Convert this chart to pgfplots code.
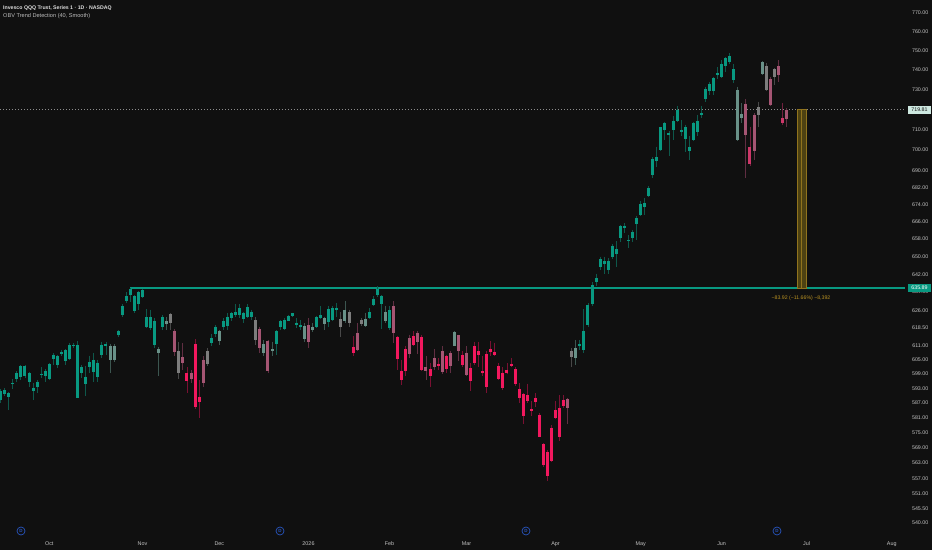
\documentclass[border=0pt]{standalone}
\usepackage{fontspec}
\setmainfont{Liberation Sans}
\usepackage{pgfplots}
\usepackage{pgfplotstable}
\pgfplotsset{compat=1.18}

\definecolor{bg}{RGB}{16,16,16}
\definecolor{lab}{RGB}{195,195,195}
\definecolor{titleA}{RGB}{222,222,222}
\definecolor{titleB}{RGB}{190,190,190}
\definecolor{darktxt}{RGB}{20,20,20}
\definecolor{tealB}{RGB}{8,153,129}
\definecolor{tealW}{RGB}{14,88,75}
\definecolor{gtB}{RGB}{105,145,136}
\definecolor{gtW}{RGB}{60,86,80}
\definecolor{gB}{RGB}{125,125,125}
\definecolor{gW}{RGB}{72,72,72}
\definecolor{mpB}{RGB}{165,85,115}
\definecolor{mpW}{RGB}{96,46,66}
\definecolor{mdB}{RGB}{205,55,105}
\definecolor{mdW}{RGB}{112,32,62}
\definecolor{pB}{RGB}{242,24,94}
\definecolor{pW}{RGB}{122,16,50}
\definecolor{lvl}{RGB}{8,153,129}
\definecolor{dotc}{RGB}{140,140,140}
\definecolor{goldF}{RGB}{78,66,18}
\definecolor{goldD}{RGB}{145,116,30}
\definecolor{goldT}{RGB}{185,145,35}
\definecolor{pricebox}{RGB}{205,232,224}
\definecolor{divblue}{RGB}{40,85,190}

% columns: bar index, low, body low, body high, high
\pgfplotstableread{
i lo blo bhi hi
-12 587.0 588.0 591.7 592.8
-11 589.9 590.6 592.2 593.2
-10 584.2 589.6 591.0 591.5
-9 592.7 594.6 595.4 596.8
-8 595.8 596.9 599.3 600.0
-7 596.5 597.5 602.1 602.8
-6 597.3 597.9 602.1 602.8
-5 593.7 595.7 599.3 599.8
-4 588.3 591.7 593.3 595.1
-3 591.0 593.7 595.8 596.5
-2 597.2 598.3 599.1 601.8
-1 595.8 597.9 600.3 601.1
0 596.5 596.8 603.1 603.6
1 602.8 605.3 607.0 607.7
2 601.4 602.8 606.3 607.0
3 606.3 607.4 608.2 609.1
4 602.8 604.2 609.0 609.5
5 604.9 605.2 611.2 612.1
6 609.8 610.5 611.3 611.9
7 589.1 589.2 611.2 612.9
8 597.2 599.3 601.8 602.8
9 589.9 594.9 597.8 602.1
10 599.3 601.8 603.9 606.6
11 595.8 599.7 604.9 607.9
12 595.8 597.6 603.7 604.9
13 605.6 606.7 611.2 612.6
14 607.0 610.8 611.6 612.6
17 614.7 615.5 616.9 617.6
18 623.2 624.2 627.7 628.9
19 629.2 629.9 632.5 633.9
20 629.7 632.8 635.5 635.9
21 625.0 625.8 632.1 632.8
22 626.3 628.9 633.9 634.6
23 631.4 631.8 635.0 635.4
24 618.3 619.0 623.1 626.6
25 617.6 618.2 623.1 626.3
26 609.8 611.2 621.6 622.8
28 617.6 618.6 623.1 624.1
40 610.5 612.2 614.1 615.9
41 614.7 615.8 619.0 619.7
43 617.6 619.0 621.6 622.7
44 617.6 619.3 623.3 624.8
45 621.2 622.7 624.8 625.5
46 623.3 624.2 625.4 628.9
47 622.7 623.8 627.0 628.7
48 620.7 622.3 625.1 625.5
49 622.7 623.3 627.4 628.9
50 621.9 623.3 625.5 626.3
56 607.0 611.5 616.9 617.6
57 617.6 618.6 621.2 621.9
58 617.6 617.9 621.9 622.7
59 621.2 621.6 623.7 624.1
60 623.3 623.7 624.7 625.1
61 618.3 619.6 620.7 622.7
62 617.6 619.0 619.7 621.9
66 618.3 619.0 623.1 623.7
67 622.2 622.8 623.8 627.7
69 619.0 620.9 626.6 627.7
70 621.2 621.9 627.1 628.0
71 623.3 626.0 627.1 629.2
79 622.2 622.8 625.4 627.0
80 627.7 628.4 631.1 632.1
81 631.8 632.7 635.4 636.5
82 617.9 628.9 632.4 632.8
84 617.6 618.3 626.0 627.7
131 609.1 610.5 611.6 613.3
132 607.9 609.1 617.2 626.6
133 619.0 619.7 628.4 629.2
134 628.0 628.7 637.3 638.3
135 636.5 638.7 640.2 642.2
136 643.9 645.2 648.7 649.9
137 642.2 646.5 647.7 649.9
138 642.2 643.9 648.1 649.2
139 648.7 649.9 654.9 655.7
140 645.4 651.1 653.4 656.8
141 656.3 658.1 663.7 664.4
142 660.6 663.1 664.1 665.2
143 653.7 657.1 657.5 659.8
144 656.3 658.3 661.3 662.1
145 657.5 664.9 667.5 668.6
146 668.3 668.9 674.1 675.3
147 669.1 672.5 674.6 676.9
148 677.4 677.7 681.6 682.7
149 686.4 687.6 695.7 696.5
150 691.9 694.7 696.5 701.6
151 699.2 699.7 711.1 711.4
152 704.9 709.8 713.1 713.9
153 696.8 707.2 708.2 709.0
154 704.9 709.8 714.4 716.8
155 713.9 714.4 719.8 721.8
156 706.5 708.8 709.8 714.8
157 698.7 705.4 711.1 712.3
158 695.2 699.5 701.6 706.5
159 704.1 704.9 713.1 713.9
160 706.5 708.5 714.4 717.3
161 715.6 717.3 718.1 721.8
162 723.9 725.2 730.2 731.5
163 727.3 729.0 732.9 734.1
164 727.3 729.0 735.8 736.3
165 735.3 737.5 738.4 741.5
166 735.8 736.6 743.2 745.2
167 739.2 741.8 746.1 746.6
168 743.2 743.8 747.3 748.7
169 733.3 735.0 740.4 743.2
}\tabT

\pgfplotstableread{
i lo blo bhi hi
15 599.5 604.9 610.8 611.6
16 604.0 604.6 610.5 611.6
27 598.2 607.9 609.5 610.3
29 617.6 620.2 621.3 623.1
42 611.2 613.0 616.9 617.6
53 606.6 607.9 611.5 613.3
55 606.3 608.7 609.5 612.6
63 612.6 613.8 619.4 620.5
65 616.5 617.6 619.0 620.5
68 617.6 620.0 622.7 623.3
73 620.5 621.3 626.3 629.9
78 619.0 619.3 622.5 625.1
83 620.7 621.6 625.5 628.0
100 610.5 610.8 616.5 616.9
130 602.8 605.4 609.8 613.3
170 704.1 704.6 729.8 731.5
171 713.1 715.6 717.8 723.1
176 737.5 737.9 743.8 744.4
}\tabGT

\pgfplotstableread{
i lo blo bhi hi
30 617.6 620.7 624.5 624.8
32 596.8 599.3 608.7 612.6
39 602.1 603.2 608.7 609.8
51 611.2 613.3 621.9 623.3
72 614.5 619.0 622.2 625.5
74 619.0 620.7 625.4 626.3
77 619.3 620.2 621.9 622.7
129 601.8 605.9 608.7 609.8
175 711.1 717.3 721.1 723.9
177 729.0 729.5 742.1 743.5
179 732.4 736.6 740.4 740.9
}\tabG

\pgfplotstableread{
i lo blo bhi hi
31 606.3 608.1 617.3 618.0
33 600.4 603.5 606.0 611.9
35 595.1 596.9 599.5 600.7
38 593.7 595.1 604.9 606.3
52 607.7 610.0 618.0 619.0
54 599.5 600.0 612.9 613.3
64 609.8 612.6 619.7 622.7
76 608.4 609.1 616.2 620.5
85 611.9 616.2 628.0 629.9
89 605.6 607.4 614.1 615.5
91 607.4 612.6 616.2 616.9
93 596.5 600.0 601.8 606.3
95 600.7 601.8 605.6 609.5
97 599.0 599.8 608.7 610.5
99 599.5 602.1 607.7 608.4
101 604.2 608.8 615.2 615.5
103 597.9 598.5 607.9 610.5
128 578.5 585.1 588.5 588.9
172 686.4 707.4 722.8 725.2
174 695.2 699.2 716.9 718.1
178 721.4 722.3 735.3 736.6
180 734.1 737.5 741.8 745.2
182 711.1 715.1 719.8 720.6
}\tabMP

\pgfplotstableread{
i lo blo bhi hi
173 692.3 693.2 701.3 711.4
181 712.3 713.4 715.6 723.1
}\tabMD

\pgfplotstableread{
i lo blo bhi hi
34 591.0 596.1 599.3 601.8
36 584.5 585.3 611.5 613.6
37 580.8 587.2 589.6 596.5
75 606.6 607.7 610.2 615.0
86 600.4 605.3 614.7 615.0
87 594.5 596.5 600.0 604.9
88 597.9 600.0 609.4 610.5
90 610.5 611.2 615.0 616.9
92 600.0 600.4 614.5 615.5
94 593.5 598.0 601.0 603.5
96 600.7 602.4 603.2 605.6
98 599.3 601.1 606.3 607.0
102 601.8 602.6 607.0 608.4
104 591.7 596.1 601.4 603.5
105 602.8 603.7 610.5 612.6
106 601.8 607.0 608.8 612.6
107 597.9 599.4 600.0 606.3
108 591.2 593.7 607.4 608.4
109 606.6 608.2 609.5 612.9
110 606.3 607.0 608.2 612.1
111 596.5 596.8 602.4 603.5
112 592.4 593.3 599.5 601.8
113 599.0 599.5 600.4 603.5
114 601.8 602.4 603.2 605.6
115 594.0 594.7 601.1 601.8
116 586.9 589.2 592.8 595.1
117 578.5 581.7 590.7 591.0
118 586.9 587.6 590.3 594.9
119 581.7 583.8 584.5 587.6
120 585.5 587.4 588.9 591.0
121 573.2 573.4 582.2 582.8
122 561.6 562.1 570.5 570.8
123 555.8 558.0 567.1 568.1
124 563.5 563.9 577.0 578.1
125 580.4 580.9 584.2 587.6
126 571.8 573.4 584.9 590.3
127 584.9 585.8 588.3 590.3
}\tabP

\newcommand{\candles}[3]{%
  \addplot[draw=none, mark=none, forget plot,
    error bars/.cd, y dir=minus, y explicit, error mark=none,
    error bar style={draw=#2, line width=0.9pt}]
    table[x=i, y=hi, y error minus expr={\thisrow{hi}-\thisrow{lo}}] {#1};
  \addplot[draw=none, mark=none, forget plot,
    error bars/.cd, y dir=minus, y explicit, error mark=none,
    error bar style={draw=#3, line width=3pt}]
    table[x=i, y=bhi, y error minus expr={\thisrow{bhi}-\thisrow{blo}}] {#1};
}

\begin{document}
\begin{tikzpicture}
\path[use as bounding box] (0,0) rectangle (932pt,550pt);
\fill[bg] (0,0) rectangle (932pt,550pt);
\begin{axis}[
  at={(0pt,14pt)}, anchor=south west,
  scale only axis, width=905pt, height=536pt,
  xmin=-12.17, xmax=211.28,
  ymode=log, ymin=535.15, ymax=777.0,
  axis line style={draw=none},
  major tick length=0pt, minor tick num=0,
  ytick={540,545.5,551,557,563,569,575,581,587,593,599,605,611,618.5,626,634,642,650,658,666,674,682,690,700,710,730,740,750,760,770},
  yticklabels={540.00,545.50,551.00,557.00,563.00,569.00,575.00,581.00,587.00,593.00,599.00,605.00,611.00,618.50,626.00,634.00,642.00,650.00,658.00,666.00,674.00,682.00,690.00,700.00,710.00,730.00,740.00,750.00,760.00,770.00},
  yticklabel pos=right,
  yticklabel style={anchor=east, inner sep=0pt, xshift=23.5pt, font=\fontsize{5.3}{6}\selectfont, text=lab},
  xtick={0,23,42,64,84,103,125,146,166,187,208},
  xticklabels={Oct,Nov,Dec,2026,Feb,Mar,Apr,May,Jun,Jul,Aug},
  xticklabel style={anchor=center, inner sep=0pt, yshift=-8pt, font=\fontsize{5.4}{6}\selectfont, text=lab},
]
% reference lines
\addplot[dotc, line width=0.8pt, dash pattern=on 1pt off 2pt, forget plot] coordinates {(-12.17,719.81) (211.28,719.81)};
\addplot[lvl, line width=1.2pt, forget plot] coordinates {(20,635.89) (211.28,635.89)};
% candles
\candles{\tabT}{tealW}{tealB}
\candles{\tabGT}{gtW}{gtB}
\candles{\tabG}{gW}{gB}
\candles{\tabMP}{mpW}{mpB}
\candles{\tabMD}{mdW}{mdB}
\candles{\tabP}{pW}{pB}
% price range tool
\addplot[fill=goldF, draw=goldD, line width=0.6pt, forget plot] coordinates {(184.6,635.89) (186.8,635.89) (186.8,719.81) (184.6,719.81)} -- cycle;
\addplot[goldD, line width=0.6pt, forget plot] coordinates {(185.7,635.89) (185.7,719.81)};
\end{axis}
% title
\node[anchor=base west, inner sep=0pt, text=titleA, font=\fontsize{5.2}{6}\selectfont\bfseries] at (3pt,540.8pt) {Invesco QQQ Trust, Series 1 · 1D · NASDAQ};
\node[anchor=base west, inner sep=0pt, text=titleB, font=\fontsize{5.6}{6}\selectfont] at (3pt,532.4pt) {OBV Trend Detection (40, Smooth)};
% price labels
\node[fill=pricebox, inner sep=0pt, minimum width=23pt, minimum height=8pt, text=darktxt, font=\fontsize{5.3}{6}\selectfont] at (919.5pt,440pt) {719.81};
\node[fill=lvl, inner sep=0pt, minimum width=23pt, minimum height=8.5pt, text=white, font=\fontsize{5.3}{6}\selectfont] at (919.5pt,261.9pt) {635.89};
% range label
\node[inner sep=0pt, text=goldT, font=\fontsize{5.2}{6}\selectfont] at (801pt,252.2pt) {−83.92 (−11.66\%) −8,392};
% dividend markers
\foreach \xx in {21,280,526,777} {
  \node[circle, draw=divblue, line width=0.7pt, inner sep=0pt, minimum size=8pt, text=divblue, font=\fontsize{4.5}{5}\selectfont\bfseries] at (\xx pt,19pt) {D};
}
\end{tikzpicture}
\end{document}
